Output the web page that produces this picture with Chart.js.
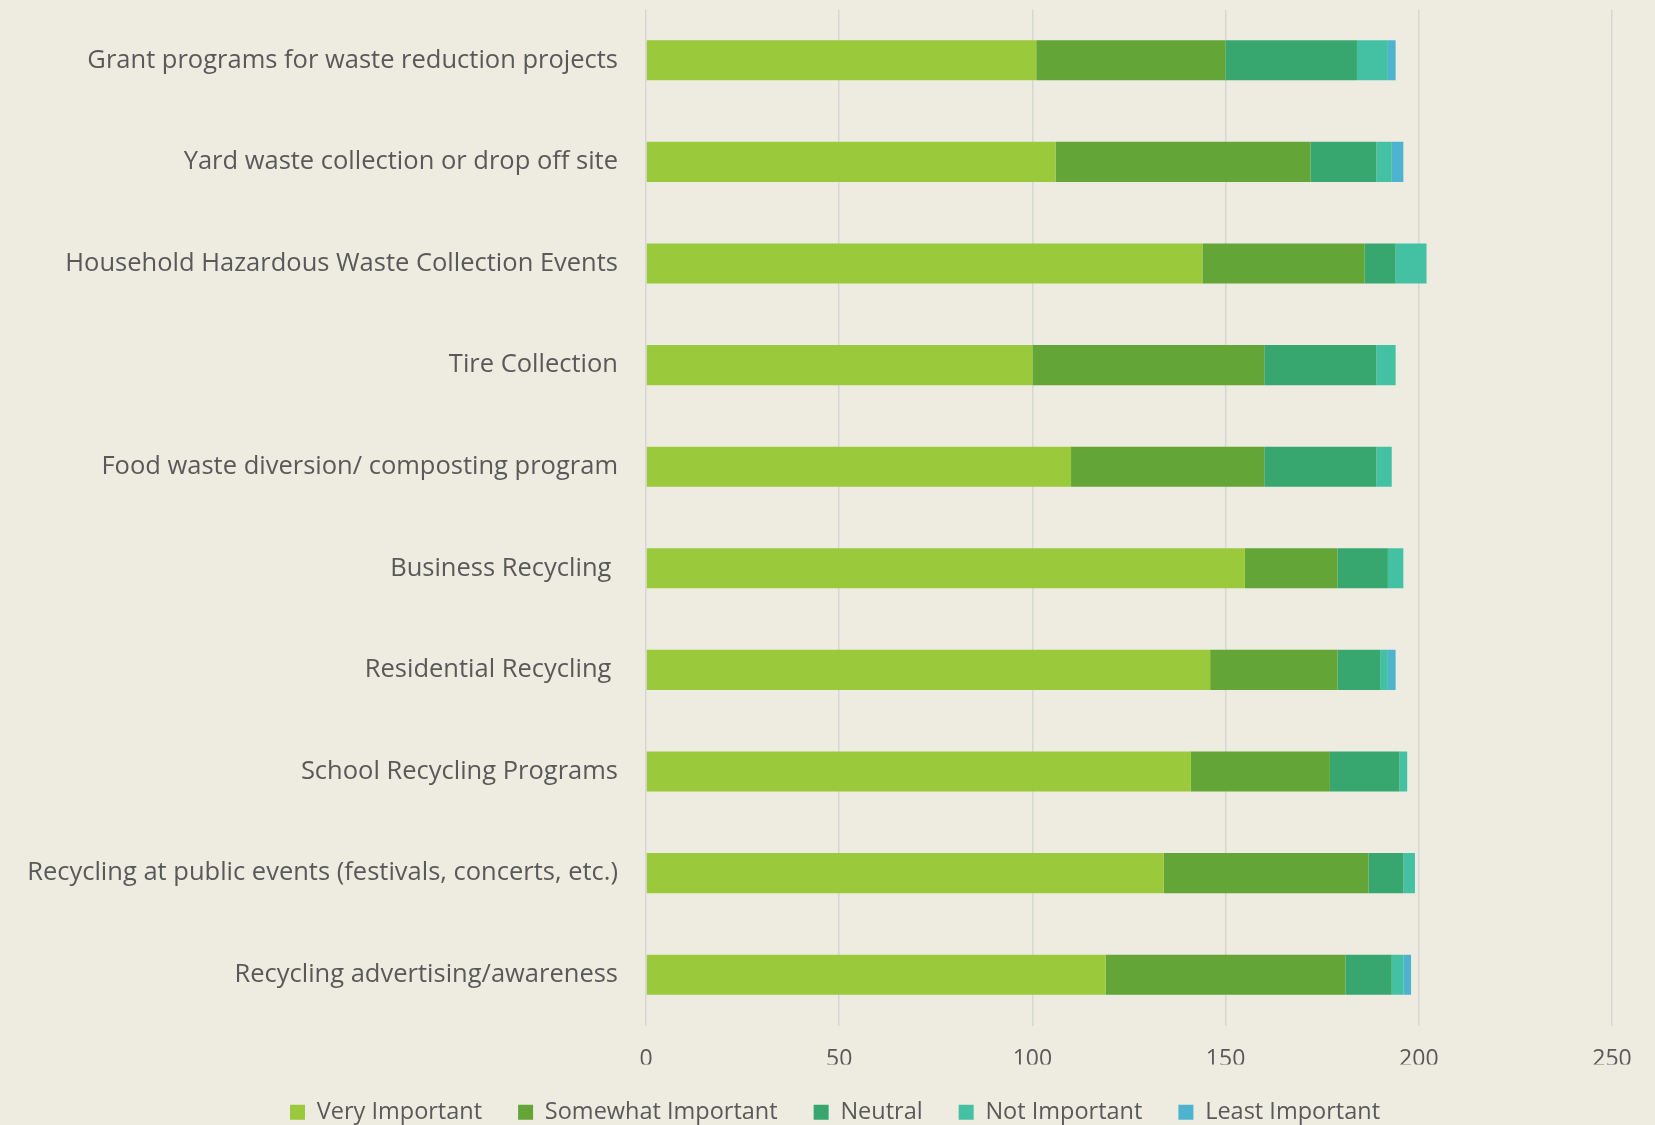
<!DOCTYPE html>
<html>
<head>
<meta charset="utf-8">
<script src="https://cdn.jsdelivr.net/npm/chart.js@4/dist/chart.umd.min.js"></script>
<style>
    html, body {
        margin: 0;
        padding: 0;
        background: #EEECE1;
        overflow: hidden;
    }
    #chart {
        display: block;
    }
</style>
</head>
<body>
<canvas id="chart" width="1655" height="1134"></canvas>
<script>
// Survey categories (top to bottom)
const categories = [
    "Grant programs for waste reduction projects",
    "Yard waste collection or drop off site",
    "Household Hazardous Waste Collection Events",
    "Tire Collection",
    "Food waste diversion/ composting program",
    "Business Recycling ",
    "Residential Recycling ",
    "School Recycling Programs",
    "Recycling at public events (festivals, concerts, etc.)",
    "Recycling advertising/awareness"
];

// Responses per importance level
const veryImportant     = [101, 106, 144, 100, 110, 155, 146, 141, 134, 119];
const somewhatImportant = [49, 66, 42, 60, 50, 24, 33, 36, 53, 62];
const neutral           = [34, 17, 8, 29, 29, 13, 11, 18, 9, 12];
const notImportant      = [8, 4, 8, 5, 4, 4, 2, 2, 3, 3];
const leastImportant    = [2, 3, 0, 0, 0, 0, 2, 0, 0, 2];

const xTicks = [0, 50, 100, 150, 200, 250];

const textColor = '#595959';
const fontFamily = '"Open Sans", "Noto Sans", sans-serif';

// Paint the canvas background
const backgroundPlugin = {
    id: 'bg',
    beforeDraw(chart) {
        const ctx = chart.ctx;
        ctx.save();
        ctx.fillStyle = '#EEECE1';
        ctx.fillRect(0, 0, chart.width, chart.height);
        ctx.restore();
    }
};

// Center the legend on the whole picture rather than on the padded area
const legendShiftPlugin = {
    id: 'legendShift',
    afterLayout(chart) {
        if (chart.legend) {
            chart.legend.left = 0;
            chart.legend.right = 1670;
        }
    }
};

function series(label, data, color) {
    return {
        label: label,
        data: data,
        backgroundColor: color,
        borderWidth: 0,
        categoryPercentage: 1.0,
        barPercentage: 0.395
    };
}

new Chart(document.getElementById('chart').getContext('2d'), {
    type: 'bar',
    data: {
        labels: categories,
        datasets: [
            series('Very Important', veryImportant, '#9ACA3C'),
            series('Somewhat Important', somewhatImportant, '#63A537'),
            series('Neutral', neutral, '#37A76F'),
            series('Not Important', notImportant, '#44C1A3'),
            series('Least Important', leastImportant, '#4EB3CF')
        ]
    },
    options: {
        indexAxis: 'y',
        responsive: false,
        animation: false,
        layout: {
            padding: { top: 9.5, right: 43, left: 0, bottom: 0 }
        },
        plugins: {
            legend: {
                position: 'bottom',
                labels: {
                    boxWidth: 15,
                    boxHeight: 15,
                    padding: 36,
                    color: textColor,
                    font: { family: fontFamily, size: 23.5 }
                }
            },
            tooltip: { enabled: false }
        },
        scales: {
            x: {
                stacked: true,
                min: 0,
                max: 250,
                afterBuildTicks(scale) {
                    scale.ticks = xTicks.map(v => ({ value: v }));
                },
                afterFit(scale) {
                    scale.height = 39;
                    scale.paddingLeft = 0;
                    scale.paddingRight = 0;
                },
                grid: {
                    color: '#D6D6D6',
                    lineWidth: 1.5,
                    drawTicks: false
                },
                border: { display: false },
                ticks: {
                    padding: 20,
                    color: textColor,
                    font: { family: fontFamily, size: 23 }
                }
            },
            y: {
                stacked: true,
                afterFit(scale) {
                    scale.width = 646;
                    scale.paddingTop = 0;
                    scale.paddingBottom = 0;
                },
                grid: { display: false, drawTicks: false },
                border: { display: false },
                ticks: {
                    padding: 28,
                    autoSkip: false,
                    color: textColor,
                    font: { family: fontFamily, size: 25.5 }
                }
            }
        }
    },
    plugins: [backgroundPlugin, legendShiftPlugin]
});
</script>
</body>
</html>
